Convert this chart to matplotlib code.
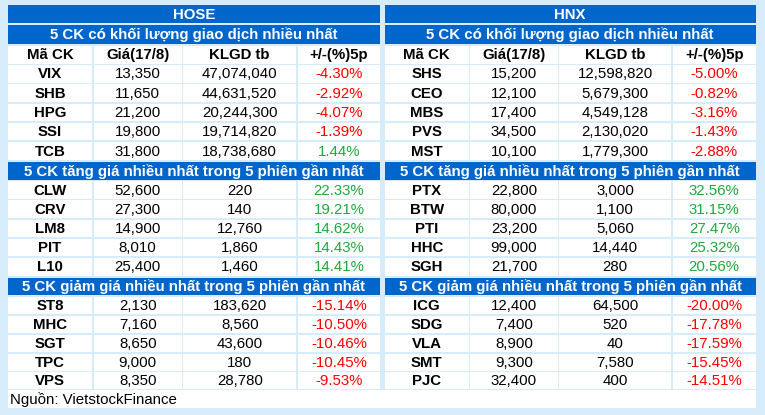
import matplotlib
matplotlib.use('Agg')
import matplotlib.pyplot as plt
from matplotlib.patches import Rectangle

plt.rcParams['font.family'] = ['Liberation Sans', 'DejaVu Sans']

# Data
# ----
col_heads = ['Mã CK', 'Giá(17/8)', 'KLGD tb', '+/-(%)5p']
sections = ['5 CK có khối lượng giao dịch nhiều nhất',
            '5 CK tăng giá nhiều nhất trong 5 phiên gần nhất',
            '5 CK giảm giá nhiều nhất trong 5 phiên gần nhất']

hose_vol_code = ['VIX', 'SHB', 'HPG', 'SSI', 'TCB']
hose_vol_price = [13350, 11650, 21200, 19800, 31800]
hose_vol_klgd = [47074040, 44631520, 20244300, 19714820, 18738680]
hose_vol_pct = [-4.30, -2.92, -4.07, -1.39, 1.44]

hose_up_code = ['CLW', 'CRV', 'LM8', 'PIT', 'L10']
hose_up_price = [52600, 27300, 14900, 8010, 25400]
hose_up_klgd = [220, 140, 12760, 1860, 1460]
hose_up_pct = [22.33, 19.21, 14.62, 14.43, 14.41]

hose_dn_code = ['ST8', 'MHC', 'SGT', 'TPC', 'VPS']
hose_dn_price = [2130, 7160, 8650, 9000, 8350]
hose_dn_klgd = [183620, 8560, 43600, 180, 28780]
hose_dn_pct = [-15.14, -10.50, -10.46, -10.45, -9.53]

hnx_vol_code = ['SHS', 'CEO', 'MBS', 'PVS', 'MST']
hnx_vol_price = [15200, 12100, 17400, 34500, 10100]
hnx_vol_klgd = [12598820, 5679300, 4549128, 2130020, 1779300]
hnx_vol_pct = [-5.00, -0.82, -3.16, -1.43, -2.88]

hnx_up_code = ['PTX', 'BTW', 'PTI', 'HHC', 'SGH']
hnx_up_price = [22800, 80000, 23200, 99000, 21700]
hnx_up_klgd = [3000, 1100, 5060, 14440, 280]
hnx_up_pct = [32.56, 31.15, 27.47, 25.32, 20.56]

hnx_dn_code = ['ICG', 'SDG', 'VLA', 'SMT', 'PJC']
hnx_dn_price = [12400, 7400, 8900, 9300, 32400]
hnx_dn_klgd = [64500, 520, 40, 7580, 400]
hnx_dn_pct = [-20.00, -17.78, -17.59, -15.45, -14.51]

source = 'Nguồn: VietstockFinance'

# Layout
# ------
BLUE = '#0066CC'
GRID = '#D7ECFA'
RED = '#FF0000'
GREEN = '#1DAA3C'
FS = 10.8

bounds = [4.5, 24, 44.8, 64.5, 83.5, 102.8, 121.8, 141.2, 160.8, 180.5,
          199.5, 218.6, 237.8, 257, 276.6, 296, 315, 334, 353, 371.5, 389.5, 409]

tables = [
    ('HOSE', [7, 93, 182.5, 297, 381],
     [(hose_vol_code, hose_vol_price, hose_vol_klgd, hose_vol_pct),
      (hose_up_code, hose_up_price, hose_up_klgd, hose_up_pct),
      (hose_dn_code, hose_dn_price, hose_dn_klgd, hose_dn_pct)]),
    ('HNX', [384, 469.5, 558.5, 672, 756.5],
     [(hnx_vol_code, hnx_vol_price, hnx_vol_klgd, hnx_vol_pct),
      (hnx_up_code, hnx_up_price, hnx_up_klgd, hnx_up_pct),
      (hnx_dn_code, hnx_dn_price, hnx_dn_klgd, hnx_dn_pct)]),
]

fig = plt.figure(figsize=(7.65, 4.15), dpi=100, facecolor=GRID)
ax = fig.add_axes([0, 0, 1, 1])
ax.set_xlim(0, 765)
ax.set_ylim(415, 0)
ax.axis('off')


def cell(x0, x1, r, color, text=None, tcolor='black', bold=False, ha='center'):
    y0, y1 = bounds[r] + 0.9, bounds[r + 1] - 0.9
    ax.add_patch(Rectangle((x0 + 0.9, y0), x1 - x0 - 1.8, y1 - y0,
                           facecolor=color, edgecolor='none'))
    if text is not None:
        tx = (x0 + x1) / 2 if ha == 'center' else x0 + 3
        ax.text(tx, (y0 + y1) / 2 + 0.5, text, ha=ha, va='center', fontsize=FS,
                color=tcolor, fontweight='bold' if bold else 'normal')


for name, xs, blocks in tables:
    left, right = xs[0], xs[-1]
    cell(left, right, 0, BLUE, name, 'white', True)
    for k in range(4):
        cell(xs[k], xs[k + 1], 2, 'white', col_heads[k], bold=True)
    r = 1
    for s, (codes, prices, klgd, pct) in enumerate(blocks):
        cell(left, right, r, BLUE, sections[s], 'white', True)
        r += 2 if s == 0 else 1
        for i in range(len(codes)):
            cell(xs[0], xs[1], r, 'white', codes[i], bold=True)
            cell(xs[1], xs[2], r, 'white', f'{prices[i]:,}')
            cell(xs[2], xs[3], r, 'white', f'{klgd[i]:,}')
            cell(xs[3], xs[4], r, 'white', f'{pct[i]:.2f}%',
                 RED if pct[i] < 0 else GREEN)
            r += 1

cell(7, 756.5, 20, 'white', source, ha='left')

fig.savefig('out.png', dpi=100, facecolor=GRID)
